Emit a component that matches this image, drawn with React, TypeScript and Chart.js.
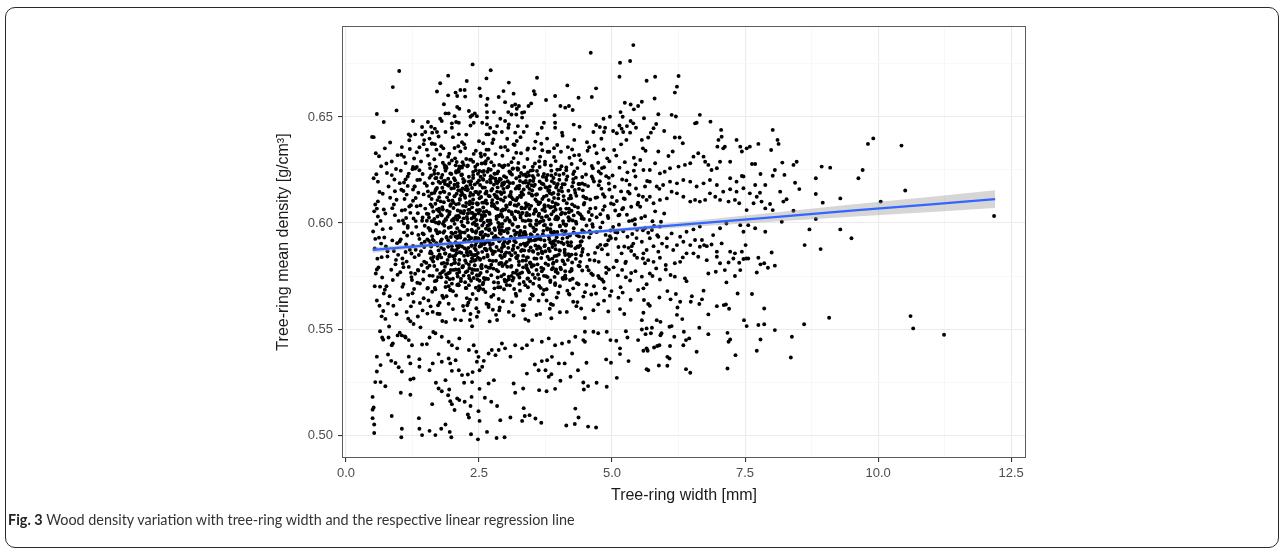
import React, { useEffect, useRef } from "react";
import { Chart, registerables } from "chart.js";

Chart.register(...registerables);

// ---- axis ticks ----
const xMajorTicks = [0, 2.5, 5, 7.5, 10, 12.5];
const xMinorTicks = [1.25, 3.75, 6.25, 8.75, 11.25];
const yMajorTicks = [0.5, 0.55, 0.6, 0.65];
const yMinorTicks = [0.525, 0.575, 0.625, 0.675];

// ---- linear regression fit ----
const fitWidth = [0.5, 2, 3.5, 5, 6.5, 8, 9.5, 11, 12.2];
const fitDensity = [0.5873, 0.5904, 0.5935, 0.5965, 0.5996, 0.6027, 0.6058, 0.6088, 0.6113];
const fitLower = [0.586, 0.5895, 0.5929, 0.5957, 0.5982, 0.6006, 0.6029, 0.6052, 0.6071];
const fitUpper = [0.5886, 0.5913, 0.5941, 0.5973, 0.601, 0.6048, 0.6087, 0.6124, 0.6155];

// ---- observations: [tree-ring width mm, mean density g/cm3] ----
const ringsUnder1: [number, number][] = [
  [0.52,.6405],[0.55,.6087],[0.58,.6068],[0.53,.6055],[0.6,.6102],[0.57,.5995],[0.51,.596],[0.62,.5931],[0.66,.5903],[0.54,.588],
  [0.59,.5832],[0.61,.579],[0.56,.5762],[0.68,.5743],[0.64,.57],[0.71,.5668],[0.58,.5635],[0.63,.561],[0.7,.5585],[0.67,.556],
  [0.74,.5548],[0.79,.562],[0.82,.5655],[0.76,.5702],[0.88,.5731],[0.85,.578],[0.93,.5805],[0.78,.5842],[0.9,.5868],[0.96,.5905],
  [0.72,.5932],[0.84,.5975],[0.99,.601],[0.74,.6045],[0.87,.607],[0.95,.611],[0.69,.6138],[0.8,.6172],[0.91,.6205],[0.77,.6236],
  [0.66,.6268],[0.86,.629],[0.97,.632],[0.73,.6352],[0.62,.6315],[0.83,.638],[0.94,.6255],[0.6,.6195],[0.98,.585],[0.89,.561],
  [0.95,.557],[0.81,.5512],[0.7,.545],[0.64,.549],[0.88,.5432],[0.97,.547],[0.75,.589],[0.92,.615],[0.57,.623],[0.65,.601]
];

const rings1to15: [number, number][] = [
  [1.07,.6012],[1.31,.5874],[1.18,.6233],[1.44,.5951],[1.02,.5768],[1.26,.6105],[1.39,.5623],[1.13,.5899],[1.48,.6188],[1.21,.5537],
  [1.35,.6046],[1.09,.6312],[1.42,.5802],[1.16,.5978],[1.28,.5689],[1.04,.6157],[1.46,.6372],[1.23,.5856],[1.33,.6264],[1.11,.5465],
  [1.38,.5925],[1.19,.6078],[1.01,.5913],[1.45,.5734],[1.27,.6021],[1.14,.5581],[1.36,.6143],[1.06,.5833],[1.41,.629],[1.24,.5952],
  [1.3,.5761],[1.12,.6206],[1.47,.5887],[1.2,.6349],[1.34,.5718],[1.05,.6059],[1.43,.6011],[1.17,.5662],[1.29,.6172],[1.08,.5792],
  [1.4,.5508],[1.25,.6254],[1.15,.5941],[1.49,.6068],[1.03,.6247],[1.32,.5982],[1.22,.5607],[1.37,.5849],[1.1,.6113],[1.46,.5645],
  [1.26,.5892],[1.19,.639],[1.44,.6231],[1.06,.5699],[1.35,.5559],[1.13,.6024],[1.28,.6304],[1.4,.6083],[1.01,.5483],[1.23,.5745],
  [1.47,.5818],[1.16,.6175],[1.31,.6118],[1.09,.5956],[1.38,.6357],[1.2,.5874],[1.43,.5427],[1.04,.6322],[1.27,.5524],[1.34,.6203],
  [1.14,.5818],[1.48,.5987],[1.21,.6048],[1.36,.5776],[1.08,.6151],[1.42,.5902],[1.25,.5669],[1.12,.5863],[1.3,.6257],[1.46,.6135]
];

const rings15to2: [number, number][] = [
  [1.52,.6044],[1.78,.5913],[1.63,.6187],[1.91,.5826],[1.57,.5752],[1.84,.6098],[1.69,.5967],[1.96,.6234],[1.54,.6318],[1.73,.5612],
  [1.88,.6015],[1.6,.5889],[1.99,.5714],[1.66,.6142],[1.81,.5538],[1.55,.5977],[1.94,.6281],[1.71,.6063],[1.86,.5794],[1.58,.6259],
  [1.76,.5852],[1.93,.6107],[1.62,.5676],[1.83,.6352],[1.51,.5812],[1.68,.6211],[1.97,.5934],[1.74,.5998],[1.89,.5655],[1.56,.6127],
  [1.8,.6036],[1.65,.5841],[1.98,.6163],[1.7,.5729],[1.87,.6247],[1.53,.5573],[1.77,.6189],[1.92,.5888],[1.61,.6009],[1.85,.5962],
  [1.67,.6372],[1.95,.5767],[1.59,.5903],[1.82,.6284],[1.72,.5951],[1.9,.6058],[1.54,.5694],[1.79,.5744],[1.64,.6054],[1.99,.6012],
  [1.57,.6398],[1.75,.6122],[1.88,.5533],[1.62,.5938],[1.84,.5876],[1.69,.6266],[1.96,.5685],[1.52,.6176],[1.81,.6075],[1.66,.5797],
  [1.93,.5978],[1.58,.5858],[1.77,.6323],[1.9,.5744],[1.63,.5581],[1.86,.6199],[1.74,.5871],[1.97,.6089],[1.56,.6026],[1.83,.5647],
  [1.71,.6165],[1.94,.5842],[1.6,.6224],[1.78,.6041],[1.92,.6313],[1.65,.5916],[1.89,.5931],[1.53,.5923],[1.76,.5571],[1.98,.5804],
  [1.68,.6091],[1.85,.6146],[1.55,.5635],[1.8,.5809],[1.7,.6346],[1.95,.6052],[1.61,.6113],[1.87,.5698],[1.73,.6233],[1.99,.6295],
  [1.57,.5799],[1.82,.5996],[1.67,.5726],[1.91,.6179],[1.75,.6004],[1.59,.6088],[1.84,.5775],[1.64,.5486],[1.96,.5905],[1.72,.5833],
  [1.88,.6267],[1.54,.6149],[1.79,.6214],[1.62,.6375],[1.93,.5619],[1.7,.5902],[1.86,.5856],[1.58,.5964],[1.81,.6166],[1.66,.6019]
];

const rings2to25: [number, number][] = [
  [2.03,.6021],[2.31,.5917],[2.17,.6148],[2.44,.5873],[2.09,.5762],[2.38,.6093],[2.22,.5984],[2.48,.6232],[2.05,.6305],[2.27,.5646],
  [2.41,.6035],[2.13,.5899],[2.35,.5728],[2.19,.6163],[2.46,.5558],[2.01,.5949],[2.29,.6271],[2.15,.6056],[2.42,.5801],[2.07,.6244],
  [2.33,.5863],[2.24,.6119],[2.49,.5683],[2.11,.6362],[2.37,.5834],[2.2,.6208],[2.45,.5962],[2.04,.5996],[2.3,.5624],[2.16,.6131],
  [2.4,.6027],[2.08,.5857],[2.26,.6173],[2.47,.5735],[2.12,.6242],[2.34,.5571],[2.21,.6192],[2.43,.5896],[2.02,.6013],[2.36,.5968],
  [2.18,.6381],[2.28,.5773],[2.06,.5909],[2.39,.6289],[2.14,.5941],[2.32,.6063],[2.5,.5702],[2.1,.5748],[2.25,.6079],[2.45,.6014],
  [2.01,.6405],[2.23,.6129],[2.37,.5513],[2.15,.5932],[2.42,.5881],[2.19,.6287],[2.48,.6091],[2.04,.6181],[2.3,.6062],[2.12,.5807],
  [2.44,.5989],[2.27,.5874],[2.07,.5658],[2.35,.6197],[2.22,.5846],[2.49,.6046],[2.09,.6016],[2.33,.5639],[2.18,.6229],[2.41,.5822],
  [2.03,.5871],[2.26,.6302],[2.46,.5754],[2.14,.6109],[2.38,.5996],[2.24,.6159],[2.05,.5813],[2.31,.6218],[2.2,.5609],[2.43,.6147],
  [2.1,.6059],[2.36,.5851],[2.16,.5726],[2.47,.6276],[2.29,.6003],[2.02,.5779],[2.4,.6326],[2.13,.5962],[2.34,.5928],[2.08,.6138],
  [2.25,.5694],[2.5,.5918],[2.17,.5859],[2.39,.6111],[2.06,.6272],[2.28,.6154],[2.45,.5598],[2.11,.5885],[2.32,.5787],[2.21,.6046],
  [2.48,.5837],[2.01,.5678],[2.35,.6048],[2.15,.6337],[2.42,.6182],[2.23,.5955],[2.07,.6088],[2.3,.5939],[2.19,.5794],[2.46,.6093],
  [2.03,.6211],[2.37,.6165],[2.12,.5706],[2.27,.6029],[2.44,.6249],[2.09,.5938],[2.33,.6298],[2.22,.5588],[2.49,.5976],[2.05,.5545],
  [2.26,.5812],[2.4,.5741],[2.14,.6263],[2.36,.5893],[2.2,.6081],[2.47,.5928],[2.1,.6172],[2.31,.5707],[2.17,.6006],[2.43,.6039],
  [2.04,.6127],[2.29,.5848],[2.24,.6354],[2.38,.5665],[2.13,.6028],[2.45,.5851],[2.08,.5896],[2.34,.6142],[2.21,.5752],[2.5,.6201]
];

const rings25to3: [number, number][] = [
  [2.66,.5987],[2.91,.6042],[2.54,.6123],[2.83,.5779],[2.72,.6251],[2.98,.5913],[2.59,.5836],[2.77,.6088],[2.87,.5642],[2.52,.6179],
  [2.69,.5908],[2.94,.6317],[2.61,.6034],[2.8,.5865],[2.57,.5711],[2.96,.6105],[2.74,.5952],[2.63,.6292],[2.89,.5995],[2.51,.5889],
  [2.85,.6168],[2.68,.5604],[2.99,.5807],[2.76,.6213],[2.55,.6037],[2.92,.5749],[2.64,.6149],[2.81,.5933],[2.58,.6376],[2.7,.5824],
  [2.95,.6064],[2.53,.5764],[2.86,.5927],[2.62,.5675],[2.79,.6134],[2.97,.6221],[2.67,.6011],[2.84,.5543],[2.56,.5958],[2.73,.6287],
  [2.9,.5846],[2.6,.6097],[2.78,.5721],[2.93,.5982],[2.65,.6194],[2.52,.5827],[2.88,.6274],[2.71,.5896],[2.99,.6012],[2.57,.6242],
  [2.82,.6069],[2.68,.5789],[2.95,.5631],[2.54,.5914],[2.75,.6161],[2.61,.5734],[2.87,.6033],[2.64,.6346],[2.92,.5866],[2.51,.6062],
  [2.79,.5975],[2.7,.6126],[2.97,.5758],[2.58,.5687],[2.84,.6188],[2.66,.5842],[2.9,.6145],[2.55,.6281],[2.76,.5591],[2.94,.6029],
  [2.62,.5945],[2.81,.6325],[2.53,.5954],[2.73,.5803],[2.98,.6191],[2.6,.6226],[2.86,.5718],[2.69,.6049],[2.91,.5949],[2.56,.5864],
  [2.77,.5661],[2.63,.6107],[2.89,.5811],[2.72,.5998],[2.95,.6263],[2.52,.6147],[2.83,.5887],[2.67,.6304],[2.98,.5844],[2.59,.6001],
  [2.74,.6081],[2.88,.5588],[2.65,.5771],[2.93,.6176],[2.57,.5929],[2.8,.6232],[2.7,.5536],[2.96,.5902],[2.54,.5795],[2.85,.6117],
  [2.61,.6167],[2.78,.5932],[2.99,.6359],[2.68,.6128],[2.9,.5697],[2.55,.6018],[2.82,.5822],[2.63,.5877],[2.92,.6058],[2.75,.6377],
  [2.51,.5728],[2.87,.5981],[2.66,.6242],[2.94,.5797],[2.58,.6073],[2.79,.5692],[2.71,.6205],[2.97,.5961],[2.6,.5901],[2.84,.6096],
  [2.53,.6328],[2.76,.5854],[2.89,.6209],[2.64,.5619],[2.93,.5882]
];

const rings3to35: [number, number][] = [
  [3.12,.6041],[3.37,.5893],[3.05,.6172],[3.44,.5768],[3.21,.5954],[3.29,.6236],[3.08,.5827],[3.48,.6081],[3.16,.5689],[3.33,.6134],
  [3.02,.5971],[3.41,.6302],[3.25,.5802],[3.14,.6257],[3.46,.5926],[3.19,.6055],[3.35,.5612],[3.07,.5914],[3.27,.6198],[3.43,.6013],
  [3.11,.5751],[3.31,.5873],[3.04,.6343],[3.49,.5663],[3.22,.6118],[3.38,.5945],[3.15,.5564],[3.28,.6026],[3.01,.6215],[3.45,.6161],
  [3.18,.5859],[3.34,.5722],[3.09,.6096],[3.42,.5838],[3.24,.6283],[3.13,.5995],[3.47,.5947],[3.2,.5657],[3.36,.6069],[3.03,.5794],
  [3.3,.6145],[3.17,.6368],[3.4,.5899],[3.06,.6057],[3.26,.5743],[3.44,.6224],[3.1,.5936],[3.32,.6012],[3.23,.5884],[3.5,.6129],
  [3.14,.6189],[3.39,.5801],[3.02,.5708],[3.28,.5963],[3.46,.5642],[3.19,.6107],[3.35,.6264],[3.08,.6006],[3.43,.5911],[3.25,.6163],
  [3.11,.5848],[3.33,.5589],[3.05,.6274],[3.4,.6048],[3.21,.5776],[3.47,.6011],[3.16,.5916],[3.37,.6191],[3.01,.5861],[3.29,.6329],
  [3.13,.5729],[3.44,.5869],[3.24,.6051],[3.09,.6238],[3.32,.5822],[3.18,.6019],[3.49,.6178],[3.27,.5681],[3.04,.5954],[3.38,.6093],
  [3.15,.6306],[3.42,.5739],[3.22,.5982],[3.07,.6127],[3.34,.5903],[3.2,.6211],[3.46,.5814],[3.12,.5627],[3.3,.6074],[3.03,.6168],
  [3.41,.6346],[3.26,.5941],[3.1,.5793],[3.36,.5957],[3.17,.6084],[3.48,.5917],[3.23,.6251],[3.06,.5735],[3.31,.6137],[3.43,.5539],
  [3.14,.5878],[3.39,.6219],[3.19,.5765],[3.28,.5898],[3.08,.6188],[3.45,.6038],[3.33,.5845],[3.01,.6083],[3.21,.6387],[3.37,.5707],
  [3.11,.6122],[3.47,.5988],[3.26,.6176],[3.05,.5883],[3.4,.5787]
];

const rings35to4: [number, number][] = [
  [3.62,.6034],[3.87,.5902],[3.55,.6181],[3.94,.5771],[3.71,.5963],[3.79,.6227],[3.58,.5832],[3.98,.6088],[3.66,.5694],[3.83,.6141],
  [3.52,.5978],[3.91,.6311],[3.75,.5809],[3.64,.6264],[3.96,.5933],[3.69,.6062],[3.85,.5618],[3.57,.5921],[3.77,.6203],[3.93,.6019],
  [3.61,.5757],[3.81,.5879],[3.54,.6352],[3.99,.5671],[3.72,.6124],[3.88,.5951],[3.65,.5571],[3.78,.6032],[3.51,.6222],[3.95,.6167],
  [3.68,.5866],[3.84,.5729],[3.59,.6102],[3.92,.5844],[3.74,.6289],[3.63,.6001],[3.97,.5953],[3.7,.5664],[3.86,.6076],[3.53,.5801],
  [3.8,.6152],[3.67,.6374],[3.9,.5906],[3.56,.6064],[3.76,.5749],[3.94,.6231],[3.6,.5943],[3.82,.6018],[3.73,.5891],[3.99,.6136],
  [3.64,.6196],[3.89,.5808],[3.52,.5714],[3.78,.5969],[3.96,.5649],[3.69,.6113],[3.85,.6271],[3.58,.6012],[3.93,.5918],[3.75,.6169],
  [3.61,.5855],[3.83,.5596],[3.55,.6281],[3.9,.6054],[3.71,.5783],[3.97,.6017],[3.66,.5922],[3.87,.6197],[3.51,.5868],[3.79,.6336],
  [3.63,.5736],[3.94,.5876],[3.74,.6057],[3.59,.6245],[3.82,.5829],[3.68,.6026],[3.98,.6184],[3.77,.5688],[3.54,.5961],[3.88,.6099],
  [3.65,.6313],[3.92,.5746],[3.72,.5989],[3.57,.6133],[3.84,.5909],[3.7,.6218],[3.96,.5821],[3.62,.5634],[3.8,.6081],[3.53,.6174],
  [3.91,.6353]
];

const rings4to45: [number, number][] = [
  [4.12,.6045],[4.37,.5887],[4.05,.6166],[4.44,.5776],[4.21,.5941],[4.29,.6243],[4.08,.5819],[4.48,.6095],[4.16,.5681],[4.33,.6128],
  [4.02,.5984],[4.41,.6296],[4.25,.5814],[4.14,.6249],[4.46,.5934],[4.19,.6067],[4.35,.5627],[4.07,.5927],[4.27,.6191],[4.43,.6021],
  [4.11,.5744],[4.31,.5881],[4.04,.6336],[4.49,.5674],[4.22,.6129],[4.38,.5937],[4.15,.5581],[4.28,.6036],[4.01,.6226],[4.45,.6154],
  [4.18,.5853],[4.34,.5716],[4.09,.6107],[4.42,.5847],[4.24,.6278],[4.13,.5988],[4.47,.5959],[4.2,.5663],[4.36,.6073],[4.03,.5789],
  [4.3,.6156],[4.17,.6358],[4.4,.5894],[4.06,.6049],[4.26,.5737],[4.44,.6217],[4.1,.5948],[4.32,.6006],[4.23,.5892],[4.5,.6118],
  [4.14,.6204],[4.39,.5796],[4.02,.5702],[4.28,.5975],[4.46,.5653],[4.19,.6115],[4.35,.6259],[4.08,.6009],[4.43,.5914],[4.25,.6172],
  [4.11,.5861],[4.33,.5608],[4.05,.6268],[4.4,.6041],[4.21,.5771],[4.47,.6019],[4.16,.5909],[4.37,.6184],[4.01,.5872],[4.29,.6319],
  [4.13,.5738],[4.44,.5863],[4.24,.6058],[4.09,.6232],[4.32,.5831],[4.18,.6027],[4.49,.6181],[4.27,.5692]
];

const rings45to5: [number, number][] = [
  [4.62,.6038],[4.87,.5895],[4.55,.6174],[4.94,.5781],[4.71,.5957],[4.79,.6233],[4.58,.5826],[4.98,.6092],[4.66,.5702],[4.83,.6136],
  [4.52,.5988],[4.91,.6305],[4.75,.5817],[4.64,.6258],[4.96,.5938],[4.69,.6071],[4.85,.5634],[4.57,.5932],[4.77,.6197],[4.93,.6024],
  [4.61,.5762],[4.81,.5876],[4.54,.6341],[4.99,.5679],[4.72,.6121],[4.88,.5944],[4.65,.5589],[4.78,.6041],[4.51,.6229],[4.95,.6158],
  [4.68,.5859],[4.84,.5723],[4.59,.6111],[4.92,.5852],[4.74,.6284],[4.63,.5994],[4.97,.5965],[4.7,.5668],[4.86,.6079],[4.53,.5794],
  [4.8,.6162],[4.67,.6364],[4.9,.5898],[4.56,.6052],[4.76,.5741],[4.94,.6213],[4.6,.5952],[4.82,.6003],[4.73,.5886],[5.0,.6123],
  [4.64,.6209],[4.89,.5791],[4.52,.5709],[4.78,.5979],[4.96,.5657],[4.69,.6119],[4.85,.6263],[4.58,.6014],[4.93,.5919],[4.75,.6178]
];

const rings5to55: [number, number][] = [
  [5.12,.6036],[5.37,.5891],[5.05,.6171],[5.44,.5773],[5.21,.5961],[5.29,.6239],[5.08,.5822],[5.48,.6087],[5.16,.5697],[5.33,.6139],
  [5.02,.5981],[5.41,.6308],[5.25,.5811],[5.14,.6261],[5.46,.5929],[5.19,.6065],[5.35,.5638],[5.07,.5926],[5.27,.6201],[5.43,.6018],
  [5.11,.5753],[5.31,.5883],[5.04,.6344],[5.49,.5684],[5.22,.6116],[5.38,.5948],[5.15,.5594],[5.28,.6039],[5.01,.6224],[5.45,.6163],
  [5.18,.5857],[5.34,.5729],[5.09,.6104],[5.42,.5849],[5.24,.6287],[5.13,.5992],[5.47,.5968],[5.2,.5672],[5.36,.6077],[5.03,.5791],
  [5.3,.6148],[5.17,.6371],[5.4,.5903],[5.06,.6059],[5.26,.5744],[5.44,.6219],[5.1,.5955],[5.32,.6009],[5.23,.5889],[5.5,.6131]
];

const denseCoreA: [number, number][] = [
  [1.63,.5921],[2.47,.6087],[1.88,.5758],[2.71,.6012],[2.14,.6153],[2.93,.5836],[1.55,.6042],[2.36,.5894],[2.82,.6196],[1.97,.5981],
  [2.58,.5718],[2.21,.6274],[1.72,.6108],[2.89,.5953],[2.05,.5847],[2.64,.6141],[1.81,.6227],[2.42,.5779],[2.99,.6064],[2.28,.6019],
  [1.59,.5866],[2.76,.5902],[2.11,.5711],[2.53,.6218],[1.93,.6176],[2.85,.5743],[2.33,.6102],[1.67,.5694],[2.68,.6255],[2.02,.6071],
  [2.44,.5954],[1.84,.5812],[2.96,.6183],[2.18,.5889],[2.61,.6037],[1.76,.5957],[2.39,.6212],[2.87,.5872],[2.07,.6238],[2.55,.5802],
  [1.91,.6029],[2.73,.6153],[2.25,.5768],[1.61,.6139],[2.49,.5927],[2.94,.5996],[2.16,.6049],[1.79,.5883],[2.66,.5849],[2.31,.5936],
  [1.53,.5789],[2.79,.6078],[2.09,.5975],[2.57,.6167],[1.86,.6261],[2.41,.6027],[2.98,.5733],[2.23,.6198],[1.69,.6002],[2.62,.5908],
  [2.13,.5826],[2.84,.6234],[1.95,.5735],[2.52,.6058],[2.35,.5818],[1.74,.6195],[2.69,.5966],[2.04,.6126],[2.91,.6111],[2.27,.5861],
  [1.57,.6213],[2.45,.6146],[1.89,.5934],[2.77,.5785],[2.19,.5989],[2.6,.6283],[1.64,.5818],[2.38,.5961],[2.95,.5897],[2.12,.6091],
  [2.5,.5754],[1.82,.6064],[2.72,.6221],[2.29,.6159],[1.99,.5891],[2.86,.6001],[2.06,.5781],[2.56,.5988],[1.7,.5905],[2.43,.6265],
  [2.81,.5939],[2.17,.6226],[1.94,.6137],[2.65,.6092],[2.32,.5739],[1.58,.5971],[2.74,.5869],[2.1,.6187],[2.48,.5859],[1.87,.5856],
  [2.97,.6145],[2.24,.5924],[2.59,.6245],[1.77,.5761],[2.37,.6074],[2.88,.5807],[2.01,.6016],[2.67,.5941],[1.62,.6077],[2.46,.5992],
  [2.2,.5798],[2.83,.6126],[1.92,.6209],[2.54,.5893],[2.15,.5953],[2.78,.6271],[1.73,.5842],[2.4,.5848],[2.92,.6038],[2.26,.6095],
  [1.56,.5916],[2.7,.6043],[2.08,.5873],[2.51,.6117],[1.85,.5987],[2.63,.5795],[2.34,.6181],[1.98,.5954],[2.9,.5921],[2.22,.6057],
  [1.66,.6249],[2.44,.5826],[2.8,.5967],[2.03,.6165],[2.58,.6204],[1.8,.5923],[2.3,.5883],[2.75,.6108],[2.14,.5862],[1.6,.5834],
  [2.66,.6011],[2.39,.6133],[1.9,.5809],[2.98,.5852],[2.19,.6137],[2.53,.5946],[1.75,.6054],[2.85,.6066],[2.06,.5936],[2.47,.6191],
  [2.31,.5803],[1.68,.6152],[2.71,.5879],[2.11,.6034],[2.62,.6139],[1.96,.6081],[2.42,.5918],[2.87,.6197],[2.24,.5721],[1.52,.6011],
  [2.56,.6096],[2.01,.5843],[2.79,.5924],[2.36,.6021],[1.83,.6149],[2.64,.5871],[2.17,.6265],[2.93,.5964],[2.28,.5967],[1.71,.5779]
];

const denseCoreB: [number, number][] = [
  [3.17,.5928],[3.84,.6073],[3.46,.5812],[4.21,.6018],[3.09,.6134],[3.62,.5889],[4.38,.6161],[3.31,.6047],[3.98,.5764],[3.53,.6212],
  [4.09,.5901],[3.24,.5983],[3.77,.6129],[4.32,.5853],[3.41,.5737],[3.92,.5954],[3.13,.6256],[4.15,.6093],[3.66,.6007],[3.35,.5871],
  [4.44,.5966],[3.02,.5817],[3.71,.6183],[4.04,.6041],[3.49,.5943],[3.88,.5832],[3.2,.6108],[4.27,.6231],[3.58,.5779],[3.96,.6176],
  [3.27,.5762],[4.12,.5849],[3.81,.5936],[3.44,.6141],[4.36,.6049],[3.06,.5973],[3.69,.5858],[4.01,.6204],[3.38,.6198],[3.93,.5896],
  [4.24,.5776],[3.55,.6058],[3.15,.5893],[3.86,.6247],[4.41,.5912],[3.29,.6123],[3.74,.5991],[4.07,.5823],[3.48,.5806],[3.99,.6116],
  [3.11,.6051],[4.18,.6152],[3.61,.5926],[3.36,.5958],[3.89,.5788],[4.3,.6079],[3.04,.6197],[3.73,.6084],[4.13,.5962],[3.52,.5864],
  [3.23,.5846],[3.95,.6028],[4.46,.6125],[3.42,.6239],[3.79,.5745],[4.05,.5908],[3.18,.6017],[3.64,.6161],[4.35,.5889],[3.33,.5791],
  [3.91,.6189],[4.2,.5843],[3.57,.5995],[3.07,.5859],[3.83,.5868],[4.1,.6107],[3.45,.6067],[4.4,.5817],[3.26,.6219],[3.7,.5947],
  [4.02,.5987],[3.5,.6153],[3.14,.5766],[3.97,.5958],[4.28,.5956],[3.39,.5904],[3.76,.6031],[4.16,.6219],[3.6,.5805],[3.21,.6081],
  [3.87,.6137],[4.43,.6031],[3.32,.5939],[3.68,.5772],[4.06,.6149],[3.47,.5885],[3.94,.6063],[3.1,.6146],[4.23,.5909],[3.56,.6111],
  [3.28,.6036],[3.82,.5924],[4.37,.5799],[3.43,.6187],[4.0,.5851],[3.65,.6097],[3.16,.5964],[4.14,.5992],[3.8,.5802],[3.37,.6009],
  [4.31,.6142],[3.03,.6024],[3.72,.6231],[4.08,.5736],[3.54,.5919],[3.9,.6142],[3.25,.5819],[4.25,.6088],[3.63,.6044],[3.4,.5838],
  [4.45,.5878],[3.12,.6228],[3.85,.5993],[4.19,.6051],[3.51,.6249],[3.19,.5909],[3.75,.5867],[4.03,.6066],[3.34,.6158],[3.95,.5781],
  [4.33,.5997],[3.59,.5878],[3.08,.6089],[3.78,.6166],[4.11,.5874],[3.46,.5992],[3.22,.6172],[3.89,.5912],[4.39,.6184],[3.67,.5835]
];

const denseCoreC: [number, number][] = [
  [0.55,.5925],[0.63,.6146],[0.78,.5867],[0.92,.6037],[1.07,.5809],[1.22,.6084],[1.36,.5944],[0.58,.5781],[0.71,.6064],[0.87,.5918],
  [1.01,.6188],[1.16,.5986],[1.29,.5839],[1.44,.6026],[0.52,.6211],[0.67,.5839],[0.83,.6119],[0.97,.5756],[1.11,.6062],[1.26,.6158],
  [1.41,.5867],[0.54,.5702],[0.69,.5971],[0.86,.6226],[1.03,.5923],[1.18,.5793],[1.33,.6079],[1.48,.5912],[0.6,.6031],[0.76,.6281],
  [0.94,.5826],[1.09,.5998],[1.24,.5731],[1.39,.6204],[0.56,.6329],[0.73,.5685],[0.9,.6087],[1.14,.6134],[1.31,.6009],[1.46,.5771],
  [4.58,.5961],[4.83,.6062],[5.12,.5887],[5.38,.6012],[4.67,.5823],[4.94,.6186],[5.21,.6071],[5.47,.5836],[4.52,.6117],[4.78,.5897],
  [5.06,.5958],[5.33,.6181],[4.62,.6219],[4.89,.5764],[5.17,.6149],[5.43,.5993],[4.71,.6027],[4.98,.5929],[5.26,.5818],[4.55,.5851],
  [4.86,.6124],[5.14,.6039],[5.41,.6247],[4.74,.5751],[5.03,.6088],[5.29,.5935],[4.64,.5982],[4.92,.6033],[5.19,.5779],[5.49,.6096],
  [4.81,.6259],[5.09,.5821],[5.36,.5868],[4.59,.6068],[5.24,.6113],[5.55,.6024],[5.68,.5954],[5.81,.6055],[5.94,.5903],[5.62,.6032],
  [5.76,.6008],[5.89,.6161],[5.58,.5966],[5.71,.6124],[5.85,.5942],[5.98,.6045],[5.66,.6198],[5.79,.5986],[5.92,.6006],[5.53,.6077]
];

const denseCoreD: [number, number][] = [
  [1.64,.6008],[2.52,.5831],[3.41,.6172],[1.93,.5702],[2.81,.6124],[3.69,.5862],[2.18,.6261],[3.06,.5747],[3.94,.6092],[1.77,.6143],
  [2.66,.5917],[3.53,.6044],[4.21,.5731],[2.03,.5811],[2.91,.6206],[3.78,.5976],[1.68,.5687],[2.41,.6003],[3.29,.5868],[4.07,.6183],
  [2.26,.5693],[3.14,.6112],[3.87,.5782],[1.85,.6273],[2.73,.5754],[3.61,.6227],[2.11,.6154],[2.97,.5891],[3.82,.6154],[1.72,.5894],
  [2.57,.6168],[3.46,.5725],[4.16,.5932],[2.34,.5862],[3.22,.6259],[3.99,.5911],[1.96,.6191],[2.86,.5697],[3.71,.6011],[2.47,.5779],
  [3.36,.5981],[4.27,.6207],[2.07,.6032],[2.94,.6059],[3.84,.5722],[1.81,.5769],[2.62,.6281],[3.54,.5833],[2.22,.5916],[3.11,.5798],
  [3.97,.6251],[1.9,.6121],[2.77,.5864],[3.66,.6163],[2.39,.6226],[3.26,.5713],[4.11,.5806],[2.01,.5737],[2.89,.5967],[3.76,.6215],
  [1.75,.6067],[2.54,.5904],[3.43,.6086],[2.29,.6045],[3.18,.5946],[4.02,.5869],[1.99,.5874],[2.84,.6148],[3.72,.5751],[2.44,.5695],
  [3.33,.6227],[4.19,.6012],[2.14,.6114],[2.99,.5724],[3.86,.6041],[1.83,.5954],[2.69,.5971],[3.58,.5992],[2.36,.5929],[3.24,.6089],
  [4.09,.6127],[1.66,.6232],[2.59,.5741],[3.49,.5794],[2.19,.5791],[3.07,.6012],[3.91,.5959],[1.94,.6041],[2.79,.6233],[3.63,.5703],
  [2.49,.6137],[3.38,.5823],[4.24,.5851],[2.05,.6202],[2.92,.5812],[3.81,.6108],[1.79,.5838],[2.64,.6056],[3.52,.6198],[2.31,.5751],
  [3.19,.6162],[4.04,.5782],[2.09,.5893],[2.96,.6161],[3.88,.5887],[1.7,.5962],[2.56,.6027],[3.44,.5926],[2.27,.6172],[3.13,.5873],
  [3.96,.6031],[1.88,.5721],[2.74,.6095],[3.59,.6136],[2.42,.5848],[3.31,.5767],[4.14,.6068],[2.16,.5738],[3.02,.6076],[3.9,.5813],
  [1.86,.6184],[2.71,.5789],[3.57,.6055],[2.32,.6089],[3.21,.5834],[4.0,.6153],[2.02,.6096],[2.88,.5914],[3.74,.5896],[1.62,.5827],
  [2.51,.6245],[3.39,.6079],[2.24,.5823],[3.09,.6234],[3.93,.5716],[1.97,.5779],[2.83,.6031],[3.68,.6186],[2.46,.6061],[3.34,.5954],
  [4.18,.5895],[2.12,.6253],[2.98,.5847],[3.85,.5958],[1.78,.6102],[2.61,.5879],[3.51,.5757],[2.37,.5782],[3.27,.6129],[4.12,.5753],
  [2.06,.5956],[2.93,.6268],[3.79,.5841],[1.73,.5745],[2.58,.5937],[3.47,.6247],[2.21,.6022],[3.08,.5706],[3.92,.6077],[1.92,.5919],
  [2.78,.6181],[3.64,.5929],[2.43,.5931],[3.32,.6048],[4.23,.6117],[2.13,.5769],[2.99,.6121],[3.83,.6172],[1.84,.6006],[2.67,.5736],
  [3.56,.5894],[2.28,.6268],[3.16,.6028],[4.06,.5964],[2.04,.5829],[2.87,.6033],[3.73,.6074],[1.69,.6159],[2.53,.6013],[3.42,.5777]
];

const upperCloud: [number, number][] = [
  [1.12,.6283],[1.47,.6391],[1.83,.6197],[2.26,.6417],[2.61,.6322],[2.94,.6188],[3.28,.6405],[3.63,.6291],[3.97,.6368],[4.32,.6214],
  [4.71,.6329],[1.29,.6172],[1.66,.6301],[2.04,.6354],[2.39,.6241],[2.77,.6394],[3.11,.6287],[3.46,.6199],[3.82,.6336],[4.14,.6262],
  [4.53,.6381],[4.89,.6221],[1.05,.6358],[1.38,.6249],[1.74,.6408],[2.13,.6267],[2.5,.6386],[2.86,.6243],[3.2,.6331],[3.56,.6384],
  [3.9,.6212],[4.25,.6347],[4.62,.6269],[1.21,.6411],[1.57,.6278],[1.94,.6327],[2.31,.6195],[2.68,.6346],[3.03,.6397],[3.37,.6229],
  [3.74,.6276],[4.07,.6412],[4.44,.6186],[4.8,.6397],[1.16,.6219],[1.52,.6346],[1.89,.6259],[2.22,.6372],[2.57,.6208],[2.91,.6357],
  [3.24,.6255],[3.6,.6421],[3.94,.6292],[4.29,.6392],[4.66,.6196],[1.33,.6334],[1.7,.6212],[2.08,.6288],[2.44,.6341],[2.81,.6209],
  [3.15,.6371],[3.51,.6266],[3.86,.6224],[4.2,.6308],[4.57,.6357],[4.95,.6291],[1.09,.6191],[1.43,.6417],[1.79,.6362],[2.17,.6226],
  [2.54,.6314],[2.72,.6191],[3.07,.6243],[3.42,.6352],[3.78,.6398],[4.11,.6183],[4.48,.6281],[4.84,.6347],[1.26,.6264],[1.61,.6374],
  [1.98,.6231],[2.35,.6299],[2.64,.6418],[2.98,.6271],[3.33,.6191],[3.69,.6343],[4.02,.6253],[4.38,.6321],[4.75,.6243],[5.08,.6318],
  [5.27,.6392],[5.44,.6276],[5.63,.6341],[5.19,.6205]
];

const lowerCloud: [number, number][] = [
  [1.08,.5712],[1.44,.5588],[1.81,.5657],[2.16,.5541],[2.52,.5693],[2.89,.5602],[3.23,.5756],[3.58,.5566],[3.93,.5708],[4.27,.5629],
  [4.64,.5755],[1.27,.5628],[1.63,.5751],[2.01,.5594],[2.37,.5764],[2.73,.5652],[3.06,.5581],[3.42,.5697],[3.77,.5635],[4.12,.5773],
  [4.49,.5552],[4.86,.5692],[1.17,.5549],[1.53,.5691],[1.92,.5763],[2.28,.5612],[2.63,.5739],[2.97,.5688],[3.32,.5612],[3.67,.5789],
  [4.02,.5579],[4.37,.5711],[4.74,.5617],[1.35,.5779],[1.72,.5572],[2.09,.5708],[2.45,.5642],[2.82,.5567],[3.15,.5741],[3.51,.5658],
  [3.86,.5551],[4.19,.5666],[4.56,.5777],[4.93,.5583],[1.02,.5641],[1.39,.5715],[1.76,.5624],[2.12,.5781],[2.49,.5581],[2.86,.5772],
  [3.19,.5667],[3.55,.5741],[3.89,.5614],[4.24,.5783],[4.61,.5663],[1.22,.5765],[1.59,.5607],[1.96,.5683],[2.33,.5543],[2.68,.5615],
  [3.02,.5728],[3.37,.5547],[3.72,.5684],[4.07,.5741],[4.42,.5597],[4.81,.5734],[5.12,.5648],[5.36,.5764],[5.23,.5571]
];

const centreCloud: [number, number][] = [
  [1.46,.5947],[1.87,.6018],[2.23,.5881],[2.59,.6052],[2.95,.5928],[3.3,.6069],[3.65,.5881],[3.99,.6024],[4.34,.5942],[1.61,.5856],
  [2.0,.6106],[2.38,.6047],[2.76,.5821],[3.13,.5992],[3.49,.6133],[3.84,.5971],[4.17,.5826],[1.72,.6031],[2.09,.5929],[2.45,.5908],
  [2.83,.6019],[3.2,.5839],[3.57,.5969],[3.91,.6118],[4.26,.6012],[1.95,.5849],[2.33,.6128],[2.69,.5992],[3.04,.5906],[3.39,.6036],
  [3.73,.5918],[4.09,.5996],[4.47,.6087],[2.17,.5956],[2.55,.5787],[2.92,.6137],[3.27,.5955],[3.62,.6089],[3.96,.5846],[2.63,.5973]
];

const lowDensityNarrow: [number, number][] = [
  [0.58,.537],[0.79,.538],[0.85,.535],[0.93,.534],[0.99,.532],[1.05,.53],[0.65,.533],[0.58,.53],[0.55,.525],[0.65,.525],
  [0.74,.523],[0.5,.518],[0.52,.513],[0.5,.512],[0.5,.508],[0.53,.505],[0.53,.501],[0.86,.509],[1.03,.52],[1.21,.519],
  [1.05,.503],[1.04,.499],[1.37,.508],[1.38,.503],[1.43,.5],[1.57,.502],[1.68,.5],[1.79,.503],[1.87,.505],[1.95,.5015],
  [1.98,.499],[1.62,.5146],[1.69,.5247],[1.74,.522],[1.8,.5207],[1.87,.5259],[1.94,.5215],[1.92,.5188],[1.96,.516],[1.99,.5146],
  [2.04,.5118],[2.09,.5173],[2.13,.5165],[2.23,.5157],[2.29,.5097],[2.31,.5083],[2.35,.5004],[2.48,.498],[2.51,.5067],[2.49,.5113],
  [2.34,.5137],[2.36,.518],[2.51,.5218],[2.61,.5176],[2.65,.5015],[2.73,.5157],[2.84,.5137],[2.83,.4986],[2.98,.499],[2.9,.507],
  [3.09,.5083],[3.31,.5067],[3.34,.5127],[3.36,.509],[3.45,.5094],[3.56,.5078],[3.67,.5058],[3.18,.52],[3.33,.522],[3.15,.5243],
  [3.4,.529],[3.63,.5212],[3.77,.5207],[3.93,.5218],[4.03,.5256],[4.14,.5045],[4.3,.5052],[4.37,.5083],[4.31,.5125],[4.22,.5275],
  [4.36,.5306],[3.81,.5275],[3.86,.5287],[3.75,.5306],[3.62,.5306],[3.55,.5333],[3.68,.5349],[3.78,.5353],[3.87,.5369],[4.0,.5338],
  [4.11,.5338],[4.25,.5385],[2.51,.5306],[2.56,.5322],[2.38,.5297],[2.29,.5286],[2.22,.5247],[2.18,.5283],[2.12,.5306],[1.99,.5303],
  [1.96,.5338],[1.21,.5262],[1.27,.5267],[1.38,.5322],[1.38,.5358],[1.21,.5338],[1.18,.537],[1.57,.5306],[1.63,.5338],[1.74,.5382],
  [2.78,.5259],[2.68,.5243],[2.37,.525],[1.93,.5361],[1.8,.5346],[2.46,.5346],[2.59,.535],[3.09,.537],[2.81,.5377],[2.68,.5385],
  [0.68,.546],[0.8,.546],[1.05,.547],[1.12,.546],[1.24,.5424],[1.18,.5448],[0.86,.5424],[1.52,.5429],[1.57,.546],[1.68,.548],
  [1.8,.5464],[1.93,.544],[1.99,.5424],[2.09,.5409],[2.13,.5456],[2.31,.5401],[2.4,.5424],[2.45,.5393],[2.49,.5369],[2.74,.5401],
  [2.87,.5401],[2.99,.5409],[2.93,.5432],[3.18,.5424],[3.31,.5409],[3.4,.5424],[3.5,.5448],[3.68,.544],[3.81,.5456],[3.93,.5424],
  [4.06,.5432],[4.19,.544],[4.31,.5464],[2.06,.5353]
];

const lowDensityMid: [number, number][] = [
  [4.49,.5487],[4.65,.5487],[4.74,.548],[4.9,.5487],[4.46,.5448],[4.49,.544],[4.97,.5448],[5.08,.5445],[5.15,.5409],[5.15,.5382],
  [5.26,.549],[5.29,.546],[5.49,.5448],[5.59,.5398],[5.65,.5409],[5.67,.5398],[5.73,.548],[5.63,.5476],[5.79,.5413],[5.85,.542],
  [5.89,.5424],[5.91,.5471],[5.93,.548],[6.09,.542],[6.17,.5464],[6.35,.5487],[6.39,.5448],[6.45,.5456],[6.34,.5424],[6.59,.5393],
  [6.81,.5476],[7.17,.5482],[7.19,.544],[7.22,.5451],[7.32,.5377],[7.17,.5314],[7.72,.5398],[7.79,.5451],[8.06,.5495],[8.38,.5464],
  [8.36,.5366],[6.04,.5369],[6.08,.5361],[5.88,.5328],[6.04,.5327],[5.65,.5311],[5.68,.5306],[6.39,.5311],[6.47,.5294],[5.31,.5349],
  [4.98,.5341],[4.89,.5357],[4.52,.5341],[4.46,.5248],[4.55,.5231],[4.47,.5215],[4.71,.5247],[4.9,.5228],[5.09,.527],[4.55,.504],
  [4.7,.5036]
];

const wideRingsLow: [number, number][] = [
  [8.19,.6006],[8.71,.597],[9.29,.597],[9.5,.5928],[8.62,.5896],[8.92,.5877],[8.0,.5861],[8.06,.5799],[7.93,.5789],[7.72,.5767],
  [7.79,.5805],[7.86,.581],[7.75,.5836],[7.56,.5833],[7.52,.5833],[7.47,.583],[7.51,.5896],[7.44,.5865],[7.41,.5778],[7.36,.5668],
  [7.63,.5665],[7.86,.5597],[7.48,.5542],[7.53,.5514],[7.75,.5519],[7.86,.5523],[8.61,.5523],[9.08,.5553],[10.61,.5561],[10.66,.5503],
  [11.24,.5473],[6.64,.5506],[5.65,.5503],[5.56,.5498],[5.91,.5534],[5.84,.5542],[5.75,.5506],[6.08,.5511],[6.12,.5514],[6.32,.5547],
  [6.22,.5567],[6.64,.5618],[6.69,.564],[6.72,.5681],[6.5,.5655],[6.48,.5629],[6.28,.5629],[6.23,.5602],[6.2,.5665],[6.04,.5679],
  [5.89,.5649],[6.1,.564],[5.71,.561],[5.6,.5637],[5.68,.5618],[5.59,.5577],[5.56,.5542],[6.81,.5569],[6.97,.5608],[7.1,.5613],
  [7.14,.5616],[7.2,.5596],[7.15,.572],[6.95,.577],[6.81,.5762],[7.12,.5778],[7.39,.5813],[7.31,.575],[7.19,.5814],[7.03,.581],
  [6.97,.5841],[6.78,.5825],[6.73,.5896],[6.78,.5891],[6.87,.5899],[6.97,.5865],[7.06,.5904],[7.22,.5865],[7.31,.5857],[7.28,.5833],
  [6.4,.5726],[6.37,.5739],[6.18,.5747],[6.1,.5755],[6.01,.5781],[5.9,.5734],[5.76,.575],[5.65,.5711],[5.59,.5692],[5.56,.5747],
  [5.71,.5762],[5.83,.5786],[5.62,.581],[5.58,.5833],[5.68,.5825],[5.78,.5817],[5.9,.5836],[6.01,.5802],[6.18,.581],[6.28,.5817],
  [6.33,.5838],[6.4,.5857],[6.53,.5857],[6.62,.5841],[6.65,.5888],[6.69,.592],[6.56,.592],[6.47,.5896],[6.34,.5912],[6.22,.5896],
  [6.15,.5873],[6.03,.5888],[5.87,.5865],[5.78,.5891],[5.65,.5873],[5.59,.5857],[5.56,.5912],[5.71,.5928],[5.87,.5935],[6.03,.5928],
  [6.12,.5951],[6.28,.5935],[6.4,.5959],[6.53,.597],[6.65,.5983],[6.9,.5943],[7.03,.5975],[7.15,.5998],[7.41,.599],[7.47,.5959],
  [7.56,.599],[7.69,.5975],[7.88,.5959],[5.9,.5983],[5.75,.5967],[5.62,.5975]
];

const wideRingsHigh: [number, number][] = [
  [5.65,.6671],[5.81,.669],[6.25,.6693],[6.22,.6643],[6.18,.6615],[5.8,.6587],[5.56,.6572],[5.6,.6494],[6.12,.651],[6.2,.6502],
  [6.65,.651],[6.56,.647],[6.59,.6473],[6.85,.6478],[7.05,.6439],[5.87,.6513],[5.83,.6467],[5.78,.6447],[5.98,.6434],[5.68,.6403],
  [5.56,.6392],[5.58,.6352],[6.18,.6403],[6.27,.6403],[6.33,.6376],[6.14,.6337],[6.06,.6316],[5.87,.6337],[5.81,.6282],[5.71,.625],
  [5.59,.625],[5.53,.6297],[5.9,.6234],[5.99,.6242],[6.09,.6258],[6.25,.6266],[6.37,.6274],[6.47,.6282],[6.53,.6313],[6.62,.6329],
  [6.72,.6313],[6.75,.6289],[6.81,.6274],[6.87,.625],[6.97,.6258],[7.03,.6289],[7.09,.6352],[7.12,.636],[7.0,.6392],[6.98,.636],
  [7.06,.6407],[7.34,.6392],[7.41,.636],[7.44,.6337],[7.59,.636],[7.75,.6373],[7.22,.6289],[7.53,.6352],[8.02,.6439],[8.11,.6392],
  [8.13,.6373],[7.99,.6344],[8.2,.6285],[8.41,.6274],[8.47,.6289],[7.69,.6278],[7.63,.6278],[7.79,.6231],[8.06,.625],[8.02,.6223],
  [8.24,.6227],[7.44,.6222],[7.34,.6195],[7.22,.6211],[7.47,.6219],[8.94,.6266],[9.1,.6261],[8.83,.6211],[9.63,.6211],[9.71,.625],
  [9.81,.6373],[9.91,.6399],[10.44,.6365],[10.51,.6153],[9.29,.6116],[10.05,.6101],[8.96,.6096],[8.83,.6137],[8.44,.619],[8.52,.616],
  [8.28,.6112],[8.22,.6101],[8.41,.6058],[8.02,.6061],[7.97,.609],[7.88,.6069],[7.81,.6101],[7.72,.6124],[7.59,.614],[7.53,.6061],
  [7.66,.6093],[7.39,.6093],[7.31,.6109],[7.19,.6101],[7.03,.6109],[6.94,.6124],[6.84,.614],[6.75,.6109],[6.65,.6101],[6.56,.6109],
  [6.47,.6101],[6.34,.6124],[6.22,.614],[6.12,.6148],[6.03,.6116],[5.9,.6109],[5.78,.6093],[5.65,.6109],[5.58,.6124],[5.62,.6172],
  [5.71,.6195],[5.84,.6172],[5.96,.6179],[6.09,.6195],[6.22,.6187],[6.34,.6203],[6.47,.6195],[6.59,.6172],[6.72,.6187],[6.84,.6203],
  [6.97,.6179],[7.09,.6148],[7.22,.6159],[7.34,.6148],[7.47,.6164],[7.78,.6143],[7.88,.6179],[7.69,.6179],[8.16,.6148],[12.18,.6033],
  [8.83,.6019]
];

const highDensityNarrow: [number, number][] = [
  [1.0,.6717],[0.88,.6641],[0.95,.6531],[0.58,.6514],[0.71,.6476],[1.26,.6481],[1.43,.6453],[1.54,.6476],[1.6,.6454],[1.67,.6445],
  [1.71,.6429],[1.8,.6481],[1.77,.6492],[1.87,.6517],[1.93,.6517],[1.84,.656],[1.71,.662],[1.77,.6659],[1.92,.6695],[1.92,.6602],
  [2.09,.6599],[2.06,.6615],[2.15,.6627],[2.23,.6627],[2.24,.6596],[2.27,.667],[2.09,.6547],[2.13,.6539],[2.04,.6504],[2.07,.6476],
  [2.12,.6473],[1.99,.647],[1.99,.6449],[1.87,.6429],[2.31,.6528],[2.34,.6501],[2.37,.6508],[2.42,.6517],[2.46,.6504],[2.4,.6473],
  [2.34,.646],[2.38,.6748],[2.51,.6635],[2.53,.6599],[2.64,.6682],[2.72,.672],[2.66,.6586],[2.64,.6556],[2.65,.6523],[2.65,.6497],
  [2.56,.6473],[2.65,.6465],[2.71,.6449],[2.78,.6523],[2.87,.6594],[2.96,.6622],[3.06,.6662],[3.15,.661],[2.99,.657],[3.05,.6523],
  [3.11,.6512],[3.18,.6559],[3.12,.6552],[3.21,.6539],[3.2,.6512],[3.25,.6552],[3.31,.652],[3.35,.6523],[3.31,.6497],[3.43,.6552],
  [3.48,.6564],[3.59,.6685],[3.53,.6622],[3.55,.6607],[3.76,.658],[3.93,.6599],[4.03,.6552],[4.12,.6544],[4.19,.6552],[4.26,.6533],
  [4.16,.6649],[4.37,.6591],[3.92,.6508],[3.72,.6473],[3.68,.6449],[3.93,.6473],[3.93,.6449],[4.06,.6426],[4.28,.6464],[4.39,.6454],
  [2.84,.6457],[2.9,.6492],[2.99,.6481],[3.06,.6465],[3.05,.6449],[3.23,.6457],[3.4,.6457],[3.18,.6426],[3.34,.6429],[2.93,.6429],
  [2.81,.6426],[1.18,.6418],[1.3,.6418],[1.49,.6429],[1.62,.6426],[2.12,.6418],[2.68,.6418],[2.78,.6429],[0.49,.6406]
];

const highDensityMid: [number, number][] = [
  [4.6,.6803],[5.4,.6839],[5.15,.6756],[5.34,.6764],[5.14,.669],[4.7,.6635],[4.62,.6594],[5.24,.6567],[5.35,.6559],[5.49,.6552],
  [5.41,.6536],[5.16,.6523],[5.2,.6501],[4.84,.6492],[4.96,.6501],[4.7,.6462],[4.77,.6453],[4.87,.6449],[4.85,.6429],[4.65,.6429],
  [5.14,.646],[5.18,.6445],[5.28,.6457],[5.35,.6481],[5.4,.647],[5.45,.6449],[5.73,.6426],[5.02,.6434],[5.09,.6423],[5.21,.6429],
  [5.34,.6426]
];

const allObservations = [
  ringsUnder1, rings1to15, rings15to2, rings2to25, rings25to3, rings3to35, rings35to4,
  rings4to45, rings45to5, rings5to55, denseCoreA, denseCoreB, denseCoreC, denseCoreD,
  upperCloud, lowerCloud, centreCloud,
  lowDensityNarrow, lowDensityMid, wideRingsLow, wideRingsHigh, highDensityNarrow, highDensityMid,
];

const AXIS_FONT = "'Liberation Sans', Arial, sans-serif";

const panelBorder = {
  id: "panelBorder",
  afterDatasetsDraw(chart: any) {
    const { ctx, chartArea: a } = chart;
    ctx.save();
    ctx.strokeStyle = "#5c5c5c";
    ctx.lineWidth = 1;
    ctx.strokeRect(
      Math.round(a.left) + 0.5,
      Math.round(a.top) + 0.5,
      Math.round(a.right - a.left) - 1,
      Math.round(a.bottom - a.top) - 1
    );
    ctx.restore();
  },
};

function ChartCanvas() {
  const ref = useRef<HTMLCanvasElement | null>(null);

  useEffect(() => {
    if (!ref.current) return;
    const pts = allObservations.flat().map(([x, y]) => ({ x, y }));
    const fitLine = fitWidth.map((x, i) => ({ x, y: fitDensity[i] }));
    const upper = fitWidth.map((x, i) => ({ x, y: fitUpper[i] }));
    const lower = fitWidth.map((x, i) => ({ x, y: fitLower[i] }));

    const isXMajor = (v: number) => xMajorTicks.includes(v);
    const isYMajor = (v: number) => yMajorTicks.includes(v);

    const chart = new Chart(ref.current, {
      type: "scatter",
      data: {
        datasets: [
          {
            type: "line",
            data: fitLine,
            borderColor: "#3366FF",
            borderWidth: 2.3,
            pointRadius: 0,
            fill: false,
            tension: 0,
          } as any,
          {
            type: "line",
            data: upper,
            borderWidth: 0,
            borderColor: "rgba(0,0,0,0)",
            backgroundColor: "rgba(153,153,153,0.4)",
            pointRadius: 0,
            fill: "+1",
            tension: 0,
          } as any,
          {
            type: "line",
            data: lower,
            borderWidth: 0,
            borderColor: "rgba(0,0,0,0)",
            pointRadius: 0,
            fill: false,
            tension: 0,
          } as any,
          {
            data: pts,
            backgroundColor: "#000000",
            borderWidth: 0,
            pointRadius: 1.95,
            pointHoverRadius: 1.95,
          },
        ],
      },
      options: {
        responsive: false,
        animation: false,
        devicePixelRatio: 1,
        events: [],
        layout: { padding: { left: 262, top: 26, right: 258, bottom: 45 } },
        plugins: { legend: { display: false }, tooltip: { enabled: false } },
        scales: {
          x: {
            type: "linear",
            min: -0.075,
            max: 12.78,
            afterBuildTicks: (s: any) => {
              s.ticks = [...xMajorTicks, ...xMinorTicks].sort((a, b) => a - b).map((v) => ({ value: v }));
            },
            afterFit: (s: any) => {
              s.height = 50;
            },
            ticks: {
              autoSkip: false,
              maxRotation: 0,
              padding: 4,
              color: "#4d4d4d",
              font: { family: AXIS_FONT, size: 13 },
              callback: (v: any) => (isXMajor(v) ? Number(v).toFixed(1) : ""),
            },
            grid: {
              color: (c: any) => (c.tick && isXMajor(c.tick.value) ? "#ebebeb" : "#f5f5f5"),
              lineWidth: (c: any) => (c.tick && isXMajor(c.tick.value) ? 1.1 : 0.7),
              tickColor: (c: any) => (c.tick && isXMajor(c.tick.value) ? "#333333" : "rgba(0,0,0,0)"),
              tickLength: 4,
              drawTicks: true,
            },
            border: { display: false },
            title: {
              display: true,
              text: "Tree-ring width [mm]",
              color: "#1a1a1a",
              font: { family: AXIS_FONT, size: 16 },
              padding: { top: 0, bottom: 3 },
            },
          },
          y: {
            type: "linear",
            min: 0.4892,
            max: 0.6929,
            afterBuildTicks: (s: any) => {
              s.ticks = [...yMajorTicks, ...yMinorTicks].sort((a, b) => a - b).map((v) => ({ value: v }));
            },
            afterFit: (s: any) => {
              s.width = 80;
            },
            ticks: {
              autoSkip: false,
              padding: 5,
              color: "#4d4d4d",
              font: { family: AXIS_FONT, size: 13 },
              callback: (v: any) => (isYMajor(v) ? Number(v).toFixed(2) : ""),
            },
            grid: {
              color: (c: any) => (c.tick && isYMajor(c.tick.value) ? "#ebebeb" : "#f5f5f5"),
              lineWidth: (c: any) => (c.tick && isYMajor(c.tick.value) ? 1.1 : 0.7),
              tickColor: (c: any) => (c.tick && isYMajor(c.tick.value) ? "#333333" : "rgba(0,0,0,0)"),
              tickLength: 4,
              drawTicks: true,
            },
            border: { display: false },
            title: {
              display: true,
              text: "Tree-ring mean density [g/cm³]",
              color: "#1a1a1a",
              font: { family: AXIS_FONT, size: 16 },
              padding: { top: 12, bottom: 0 },
            },
          },
        },
      },
      plugins: [panelBorder],
    });
    return () => chart.destroy();
  }, []);

  return (
    <canvas
      ref={ref}
      width={1284}
      height={553}
      style={{ position: "absolute", left: 0, top: 0, width: 1284, height: 553 }}
    />
  );
}

export default function App() {
  return (
    <div style={{ position: "absolute", left: 0, top: 0, width: 1284, height: 553, background: "#ffffff", overflow: "hidden" }}>
      <div
        style={{
          position: "absolute",
          left: 5,
          top: 7,
          width: 1274,
          height: 541,
          border: "1.5px solid #2b2b2b",
          borderRadius: 10,
          boxSizing: "border-box",
        }}
      />
      <ChartCanvas />
      <div
        style={{
          position: "absolute",
          left: 8,
          top: 511,
          fontFamily: "Lato, 'Open Sans', sans-serif",
          fontSize: 14.4,
          color: "#333333",
          whiteSpace: "nowrap",
          lineHeight: "18px",
        }}
      >
        <span style={{ fontWeight: 700, color: "#222222" }}>Fig. 3</span> Wood density variation with tree-ring width and the respective linear regression line
      </div>
    </div>
  );
}
